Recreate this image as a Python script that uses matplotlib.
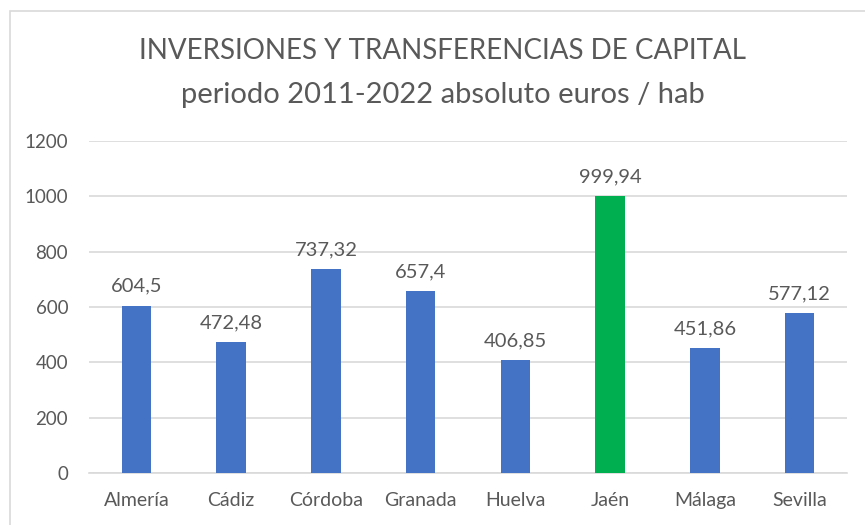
import matplotlib.pyplot as plt
from matplotlib.patches import Rectangle

provincias = ['Almería', 'Cádiz', 'Córdoba', 'Granada', 'Huelva', 'Jaén', 'Málaga', 'Sevilla']
valores = [604.5, 472.48, 737.32, 657.4, 406.85, 999.94, 451.86, 577.12]
etiquetas = ['604,5', '472,48', '737,32', '657,4', '406,85', '999,94', '451,86', '577,12']
yticks = [0, 200, 400, 600, 800, 1000, 1200]

plt.rcParams['font.family'] = ['Lato', 'DejaVu Sans']
gris = '#595959'

fig = plt.figure(figsize=(8.65, 5.25), dpi=100)
ax = fig.add_axes([89/865, 1 - 473/525, 758/865, 332/525])

colores = ['#00B050' if p == 'Jaén' else '#4472C4' for p in provincias]
x = range(len(provincias))
ax.bar(x, valores, width=0.31, color=colores, zorder=3)
for xi, v, t in zip(x, valores, etiquetas):
    ax.annotate(t, (xi, v), xytext=(0, 10), textcoords='offset points',
                ha='center', va='baseline', fontsize=14.5, color=gris)

ax.set_xlim(-0.5, len(provincias) - 0.5)
ax.set_ylim(0, 1200)
ax.set_yticks(yticks)
ax.set_xticks(list(x))
ax.set_xticklabels(provincias, fontsize=14)
ax.tick_params(length=0, colors=gris)
ax.tick_params(axis='y', pad=15, labelsize=13.5)
ax.tick_params(axis='x', pad=14)
ax.grid(axis='y', color='#D9D9D9', linewidth=1.2, zorder=0)
for s in ['top', 'right', 'left']:
    ax.spines[s].set_visible(False)
ax.spines['bottom'].set_color('#D9D9D9')
ax.spines['bottom'].set_linewidth(1.2)

fig.text(0.5116, 1 - 51/525, 'INVERSIONES Y TRANSFERENCIAS DE CAPITAL', ha='center', va='center',
         fontsize=20, color=gris)
fig.text(0.5116, 1 - 95/525, 'periodo 2011-2022 absoluto euros / hab', ha='center', va='center',
         fontsize=21, color=gris)

# marco del grafico (solo lados superior e izquierdo visibles)
fig.patches.append(Rectangle((10/865, -0.1), 1.0, 1.1 - 11.5/525, transform=fig.transFigure,
                             fill=False, edgecolor='#D9D9D9', linewidth=1.2))

fig.savefig('out.png', dpi=100)
